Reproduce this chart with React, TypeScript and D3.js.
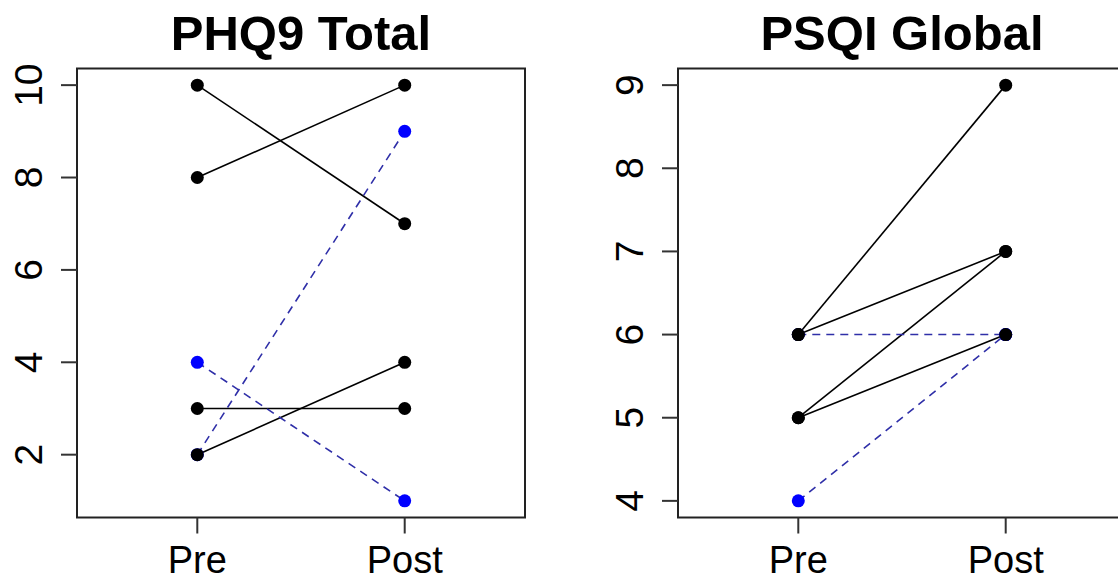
import React from "react";
import * as d3 from "d3";

const timeLabels = ["Pre", "Post"];

// PHQ9 Total
const phqPreSolid = [10, 8, 3, 2];
const phqPostSolid = [7, 10, 3, 4];
const phqPreDashed = [4, 2];
const phqPostDashed = [1, 9];
const phqTicks = [2, 4, 6, 8, 10];

// PSQI Global
const psqiPreSolid = [6, 6, 5, 5];
const psqiPostSolid = [9, 7, 7, 6];
const psqiPreDashed = [6, 4];
const psqiPostDashed = [6, 6];
const psqiTicks = [4, 5, 6, 7, 8, 9];

const W = 1118;
const H = 583;
const FONT = "Liberation Sans, Arial, Helvetica, sans-serif";

type PanelProps = {
  title: string;
  left: number;
  preSolid: number[];
  postSolid: number[];
  preDashed: number[];
  postDashed: number[];
  ticks: number[];
};

function pad(lo: number, hi: number): [number, number] {
  const d = (hi - lo) * 0.04;
  return [lo - d, hi + d];
}

function Panel({ title, left, preSolid, postSolid, preDashed, postDashed, ticks }: PanelProps) {
  const boxW = 448;
  const top = 68.5;
  const bottom = 517.5;
  const all = [...preSolid, ...postSolid, ...preDashed, ...postDashed];
  const [lo, hi] = pad(d3.min(all)!, d3.max(all)!);
  const y = d3.scaleLinear().domain([lo, hi]).range([bottom, top]);
  const [xl, xh] = pad(0.5, 2.5);
  const x = d3.scaleLinear().domain([xl, xh]).range([left, left + boxW]);
  const line = d3.line<[number, number]>().x((d) => x(d[0])).y((d) => y(d[1]));
  const dashColor = "#2f2fa8";
  const r = 6.5;
  return (
    <g>
      <text x={left + boxW / 2} y={50} textAnchor="middle" fontFamily={FONT} fontWeight="bold" fontSize={49}>
        {title}
      </text>
      {/* solid lines */}
      {preSolid.map((v, i) => (
        <path key={"s" + i} d={line([[1, v], [2, postSolid[i]]])!} stroke="#000" strokeWidth={1.6} fill="none" />
      ))}
      {preDashed.map((v, i) => (
        <path
          key={"d" + i}
          d={line([[1, v], [2, postDashed[i]]])!}
          stroke={dashColor}
          strokeWidth={1.6}
          strokeDasharray="8,6"
          fill="none"
        />
      ))}
      {/* blue points */}
      {preDashed.map((v, i) => (
        <circle key={"bp" + i} cx={x(1)} cy={y(v)} r={r} fill="#0000ff" />
      ))}
      {postDashed.map((v, i) => (
        <circle key={"bq" + i} cx={x(2)} cy={y(v)} r={r} fill="#0000ff" />
      ))}
      {/* black points */}
      {preSolid.map((v, i) => (
        <circle key={"kp" + i} cx={x(1)} cy={y(v)} r={r} fill="#000" />
      ))}
      {postSolid.map((v, i) => (
        <circle key={"kq" + i} cx={x(2)} cy={y(v)} r={r} fill="#000" />
      ))}
      {/* box */}
      <rect x={left} y={top} width={boxW} height={bottom - top} fill="none" stroke="#222" strokeWidth={2} />
      {/* y axis */}
      {ticks.map((t) => (
        <g key={"yt" + t}>
          <line x1={left - 16} x2={left} y1={y(t)} y2={y(t)} stroke="#333" strokeWidth={2} />
          <text
            transform={`translate(${left - 35},${y(t)}) rotate(-90)`}
            textAnchor="middle"
            fontFamily={FONT}
            fontSize={39}
          >
            {t}
          </text>
        </g>
      ))}
      {/* x axis */}
      {timeLabels.map((lab, i) => (
        <g key={"xt" + lab}>
          <line x1={x(i + 1)} x2={x(i + 1)} y1={bottom} y2={bottom + 16} stroke="#333" strokeWidth={2} />
          <text x={x(i + 1)} y={573} textAnchor="middle" fontFamily={FONT} fontSize={38}>
            {lab}
          </text>
        </g>
      ))}
    </g>
  );
}

export default function App() {
  return (
    <svg
      width={W}
      height={H}
      style={{ position: "absolute", left: 0, top: 0, background: "#fff" }}
    >
      <rect width={W} height={H} fill="#fff" />
      <Panel
        title="PHQ9 Total"
        left={77}
        preSolid={phqPreSolid}
        postSolid={phqPostSolid}
        preDashed={phqPreDashed}
        postDashed={phqPostDashed}
        ticks={phqTicks}
      />
      <Panel
        title="PSQI Global"
        left={678}
        preSolid={psqiPreSolid}
        postSolid={psqiPostSolid}
        preDashed={psqiPreDashed}
        postDashed={psqiPostDashed}
        ticks={psqiTicks}
      />
    </svg>
  );
}
